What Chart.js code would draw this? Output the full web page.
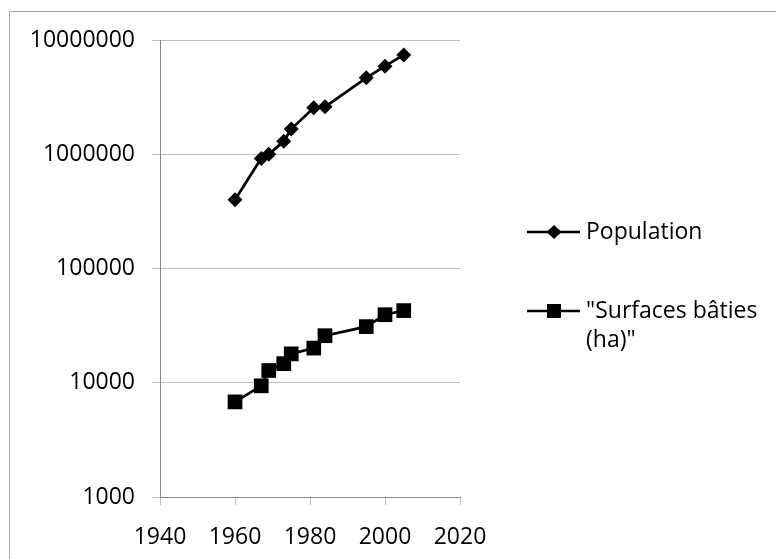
<!DOCTYPE html>
<html>
<head>
<meta charset="utf-8">
<script src="https://cdn.jsdelivr.net/npm/chart.js@4.4.1/dist/chart.umd.min.js"></script>
<style>
    html, body { margin: 0; padding: 0; background: #fff; }
    #wrap { width: 776px; height: 559px; }
</style>
</head>
<body>
<div id="wrap"><canvas id="myChart" width="776" height="559"></canvas></div>
<script>
// Values
const years = [1960, 1967, 1969, 1973, 1975, 1981, 1984, 1995, 2000, 2005];
const population = [400000, 920000, 1000000, 1300000, 1660000, 2550000, 2600000, 4670000, 5900000, 7400000];
const surfaces = [6800, 9400, 12800, 14700, 17900, 20100, 25800, 31000, 39400, 42800];
const yTicks = [1000, 10000, 100000, 1000000, 10000000];
const seriesLabels = ['Population', ['"Surfaces bâties', '(ha)"']];

const FONT = '"Open Sans", "Liberation Sans", sans-serif';

function toPoints(values) {
    return years.map((yr, i) => ({ x: yr, y: values[i] }));
}

// Frame round the chart + custom legend (wrapped label)
const framePlugin = {
    id: 'frame',
    beforeDraw(chart) {
        const ctx = chart.ctx;
        ctx.save();
        ctx.fillStyle = '#fff';
        ctx.fillRect(0, 0, chart.width, chart.height);
        ctx.strokeStyle = '#a6a6a6';
        ctx.lineWidth = 1;
        ctx.beginPath();
        ctx.moveTo(9.5, chart.height);
        ctx.lineTo(9.5, 11.5);
        ctx.lineTo(chart.width, 11.5);
        ctx.stroke();
        ctx.restore();
    },
    afterDraw(chart) {
        const ctx = chart.ctx;
        const items = [
            { y: 232, shape: 'diamond' },
            { y: 311, shape: 'square' }
        ];
        ctx.save();
        chart.data.datasets.forEach((ds, i) => {
            const it = items[i];
            ctx.strokeStyle = '#000';
            ctx.lineWidth = 2.5;
            ctx.beginPath();
            ctx.moveTo(527, it.y);
            ctx.lineTo(580, it.y);
            ctx.stroke();
            ctx.fillStyle = '#000';
            ctx.beginPath();
            if (it.shape === 'diamond') {
                ctx.moveTo(554 - 7.5, it.y);
                ctx.lineTo(554, it.y - 7);
                ctx.lineTo(554 + 7.5, it.y);
                ctx.lineTo(554, it.y + 7);
                ctx.closePath();
            } else {
                ctx.rect(554 - 7, it.y - 7, 14, 14);
            }
            ctx.fill();

            ctx.font = '23px ' + FONT;
            ctx.textAlign = 'left';
            ctx.textBaseline = 'middle';
            const lines = Array.isArray(ds.label) ? ds.label : [ds.label];
            lines.forEach((ln, k) => ctx.fillText(ln, 586, it.y + k * 29));
        });
        ctx.restore();
    }
};

document.addEventListener('DOMContentLoaded', function () {
    const ctx = document.getElementById('myChart').getContext('2d');
    new Chart(ctx, {
        type: 'line',
        data: {
            datasets: [{
                label: seriesLabels[0],
                data: toPoints(population),
                borderColor: '#000',
                backgroundColor: '#000',
                borderWidth: 2.75,
                pointStyle: 'rectRot',
                pointRadius: 7.5,
                pointBorderWidth: 0,
                tension: 0
            }, {
                label: seriesLabels[1],
                data: toPoints(surfaces),
                borderColor: '#000',
                backgroundColor: '#000',
                borderWidth: 2.75,
                pointStyle: 'rect',
                pointRadius: 10.4,
                pointBorderWidth: 0,
                tension: 0
            }]
        },
        options: {
            responsive: false,
            animation: false,
            devicePixelRatio: 1,
            layout: { padding: { left: 0, top: 40, right: 316, bottom: 0 } },
            plugins: {
                legend: { display: false },
                tooltip: { enabled: false }
            },
            scales: {
                x: {
                    type: 'linear',
                    min: 1940,
                    max: 2020,
                    ticks: {
                        stepSize: 20,
                        padding: 19,
                        color: '#000',
                        font: { family: FONT, size: 23 },
                        callback: v => String(v)
                    },
                    grid: { drawOnChartArea: false, drawTicks: true, tickLength: 8, color: '#bfbfbf' },
                    border: { color: '#868686', width: 1 },
                    afterFit: s => { s.height = 62; }
                },
                y: {
                    type: 'logarithmic',
                    min: 1000,
                    max: 10000000,
                    afterBuildTicks: s => { s.ticks = yTicks.map(v => ({ value: v })); },
                    ticks: {
                        padding: 17,
                        color: '#000',
                        font: { family: FONT, size: 23 },
                        callback: v => String(v)
                    },
                    grid: { color: '#bfbfbf', tickLength: 8 },
                    border: { color: '#868686', width: 1 },
                    afterFit: s => { s.width = 160; }
                }
            }
        },
        plugins: [framePlugin]
    });
});
</script>
</body>
</html>
